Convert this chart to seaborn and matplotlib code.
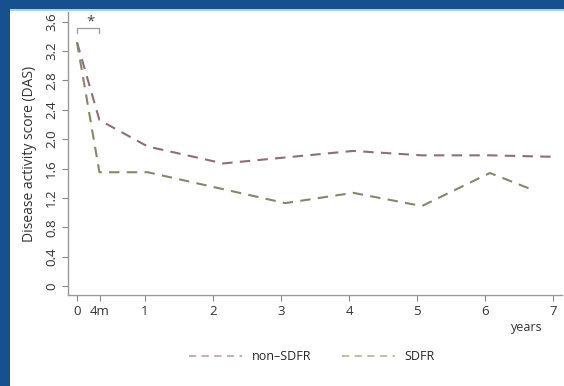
import numpy as np
import pandas as pd
import matplotlib
matplotlib.use('Agg')
import matplotlib.pyplot as plt
import seaborn as sns
from matplotlib.patches import Rectangle

# values
non_sdfr_years = [0, 0.33, 1.04, 2.15, 3.05, 4.06, 5.07, 6.07, 7.0]
non_sdfr_das = [3.32, 2.26, 1.90, 1.67, 1.75, 1.84, 1.78, 1.78, 1.76]
sdfr_years = [0, 0.33, 1.04, 2.1, 3.06, 4.06, 5.07, 6.07, 6.7]
sdfr_das = [3.32, 1.55, 1.55, 1.33, 1.13, 1.27, 1.09, 1.54, 1.31]
groups = ['non\u2013SDFR', 'SDFR']
xtick_pos = [0, 0.333, 1, 2, 3, 4, 5, 6, 7]
xtick_labels = ['0', '4m', '1', '2', '3', '4', '5', '6', '7']
ytick_pos = [0, 0.4, 0.8, 1.2, 1.6, 2.0, 2.4, 2.8, 3.2, 3.6]
ytick_labels = ['0', '0.4', '0.8', '1.2', '1.6', '2.0', '2.4', '2.8', '3.2', '3.6']

df = pd.concat([
    pd.DataFrame({'years': non_sdfr_years, 'DAS': non_sdfr_das, 'group': groups[0]}),
    pd.DataFrame({'years': sdfr_years, 'DAS': sdfr_das, 'group': groups[1]}),
], ignore_index=True)

sns.set_style('ticks')
plt.rcParams['font.family'] = ['Open Sans', 'DejaVu Sans']

W, H = 564, 386
fig = plt.figure(figsize=(W / 100, H / 100), dpi=100)
fig.patch.set_facecolor('#17508f')
# white slide panel
fig.patches.append(Rectangle((10 / W, 0), 1, (H - 10) / H, transform=fig.transFigure,
                             facecolor='white', edgecolor='none', zorder=-2))
fig.patches.append(Rectangle((10 / W, (H - 11) / H), 1, 1.5 / H, transform=fig.transFigure,
                             facecolor='#9fd3ef', edgecolor='none', zorder=-2))

ax = fig.add_axes([68 / W, (H - 295) / H, (562 - 68) / W, (295 - 12) / H])
ax.set_facecolor('none')
ax.set_zorder(2)

palette = {groups[0]: '#8d6f78', groups[1]: '#85866c'}
sns.lineplot(data=df, x='years', y='DAS', hue='group', palette=palette, ax=ax,
             sort=False, linewidth=1.5, legend=False)
for line in ax.lines:
    line.set_dashes((5, 3.5))

ax.set_xlim(-0.132, 7.13)
ax.set_ylim(-0.12, 3.73)
ax.set_xticks(xtick_pos)
ax.set_xticklabels(xtick_labels, fontsize=9.5, color='#333333')
ax.set_yticks(ytick_pos)
ax.set_yticklabels(ytick_labels, fontsize=9.5, color='#333333', rotation=90, va='center')
ax.tick_params(axis='both', length=4, width=0.8, color='#888888', pad=3)
ax.set_xlabel('')
ax.set_ylabel('Disease activity score (DAS)', fontsize=10, color='#333333', labelpad=6)
for s in ['top', 'right']:
    ax.spines[s].set_visible(False)
for s in ['left', 'bottom']:
    ax.spines[s].set_color('#999999')
    ax.spines[s].set_linewidth(1.0)

# significance bracket between baseline and 4 months
ax.plot([0, 0, 0.33, 0.33], [3.44, 3.51, 3.51, 3.44], color='#999999', lw=0.9, clip_on=False)
ax.text(0.2, 3.6, '*', ha='center', va='center', fontsize=11, color='#444444')

fig.text(527 / W, 1 - 327 / H, 'years', ha='center', va='center', fontsize=9, color='#333333')

# legend below the plot
handles = [plt.Line2D([], [], color='#c9a5ad', lw=1.3, dashes=(4, 3)),
           plt.Line2D([], [], color='#b9bb9c', lw=1.3, dashes=(4, 3))]
fig.legend(handles, groups, loc='center', bbox_to_anchor=(312 / W, 1 - 357 / H), ncol=2,
           frameon=False, fontsize=9, handlelength=4.2, columnspacing=2.5, handletextpad=0.8)

fig.savefig('out.png', dpi=100, facecolor=fig.get_facecolor())
